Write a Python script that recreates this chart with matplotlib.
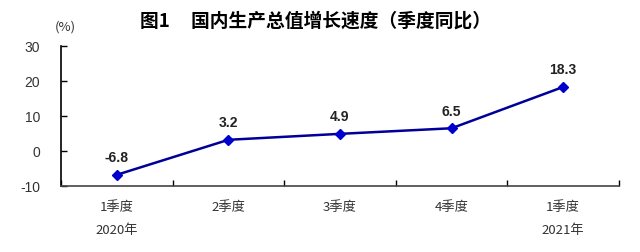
import numpy as np
import matplotlib.pyplot as plt

plt.rcParams['font.family'] = ['Noto Sans CJK SC', 'DejaVu Sans']

# --- data ---
quarters = ['1季度', '2季度', '3季度', '4季度', '1季度']
years = ['2020年', '', '', '', '2021年']
growth = [-6.8, 3.2, 4.9, 6.5, 18.3]
y_ticks = [-10, 0, 10, 20, 30]

fig = plt.figure(figsize=(6.4, 2.53), dpi=100)
ax = fig.add_axes([61 / 640, 1 - 187 / 253, 558 / 640, 140 / 253])

x = np.arange(len(growth))
ax.plot(x, growth, color='#000099', lw=1.8, marker='D', ms=5,
        mfc='#0000CC', mec='#0000CC', zorder=3)
for xi, v in zip(x, growth):
    ax.text(xi, v + 5, f'{v}', ha='center', va='center',
            fontsize=10, fontweight='bold', family='Liberation Sans', color='#222222')

ax.set_xlim(-0.5, len(growth) - 0.5)
ax.set_ylim(-10, 30)
ax.set_yticks(y_ticks)
ax.set_yticklabels([str(t) for t in y_ticks], fontsize=10, family='Liberation Sans',
                   color='#333333')
ax.tick_params(axis='y', direction='in', length=4, width=1, pad=15)

# ticks sit between categories, labels under the category centres
ax.set_xticks(np.arange(-0.5, len(growth), 1.0), minor=True)
ax.set_xticks([])
ax.tick_params(axis='x', which='minor', direction='in', length=4, width=1)
for xi, q, yr in zip(x, quarters, years):
    ax.text(xi, -15.8, q, ha='center', va='center', fontsize=9.5, color='#333333')
    if yr:
        ax.text(xi, -22.4, yr, ha='center', va='center', fontsize=9.5, color='#333333')

for s in ['top', 'right']:
    ax.spines[s].set_visible(False)
ax.spines['left'].set_linewidth(1.2)
ax.spines['bottom'].set_linewidth(1.2)
ax.spines['bottom'].set_color('#444444')

fig.text(315 / 640, 1 - 21 / 253, '图1     国内生产总值增长速度（季度同比）',
         ha='center', va='center', fontsize=13.5, fontweight='bold')
fig.text(65 / 640, 1 - 27 / 253, '(%)', ha='center', va='center', fontsize=9.5,
         color='#333333')

fig.savefig('out.png', dpi=100)
